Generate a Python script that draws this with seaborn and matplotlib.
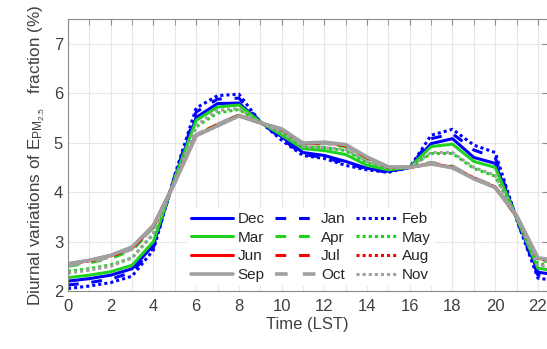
import matplotlib
matplotlib.use("Agg")
import matplotlib.pyplot as plt
from matplotlib.ticker import MultipleLocator
import seaborn as sns
import pandas as pd

hours = list(range(24))
months = ["Dec", "Jan", "Feb", "Mar", "Apr", "May", "Jun", "Jul", "Aug", "Sep", "Oct", "Nov"]

dec = [2.20, 2.25, 2.32, 2.45, 2.93, 4.30, 5.51, 5.79, 5.80, 5.42, 5.12, 4.80, 4.74, 4.62, 4.48, 4.42, 4.50, 4.98, 5.08, 4.70, 4.58, 3.48, 2.38, 2.32]
jan = [2.12, 2.17, 2.24, 2.38, 2.88, 4.32, 5.62, 5.88, 5.90, 5.42, 5.08, 4.76, 4.70, 4.58, 4.47, 4.40, 4.50, 5.08, 5.18, 4.85, 4.70, 3.45, 2.32, 2.27]
feb = [2.05, 2.10, 2.17, 2.30, 2.83, 4.35, 5.70, 5.95, 5.98, 5.42, 5.05, 4.74, 4.68, 4.54, 4.45, 4.40, 4.50, 5.15, 5.27, 4.95, 4.80, 3.45, 2.26, 2.20]
mar = [2.27, 2.32, 2.39, 2.52, 3.00, 4.28, 5.45, 5.72, 5.76, 5.42, 5.15, 4.88, 4.84, 4.76, 4.54, 4.45, 4.50, 4.92, 4.97, 4.62, 4.50, 3.48, 2.46, 2.40]
apr = [2.50, 2.57, 2.66, 2.82, 3.28, 4.22, 5.17, 5.37, 5.56, 5.40, 5.25, 4.96, 4.98, 4.92, 4.68, 4.50, 4.50, 4.60, 4.52, 4.28, 4.10, 3.50, 2.62, 2.57]
may = [2.40, 2.45, 2.53, 2.67, 3.15, 4.24, 5.32, 5.60, 5.67, 5.40, 5.20, 4.92, 4.90, 4.84, 4.60, 4.47, 4.50, 4.78, 4.78, 4.48, 4.32, 3.50, 2.55, 2.50]
jun = [2.55, 2.62, 2.72, 2.88, 3.32, 4.20, 5.15, 5.35, 5.55, 5.40, 5.27, 4.98, 5.00, 4.95, 4.70, 4.50, 4.50, 4.58, 4.50, 4.28, 4.10, 3.52, 2.66, 2.60]
jul = [2.53, 2.60, 2.70, 2.86, 3.30, 4.20, 5.16, 5.36, 5.55, 5.40, 5.26, 4.97, 4.99, 4.94, 4.69, 4.50, 4.50, 4.59, 4.51, 4.27, 4.09, 3.51, 2.65, 2.59]
aug = [2.54, 2.61, 2.71, 2.87, 3.31, 4.21, 5.14, 5.34, 5.54, 5.40, 5.27, 4.98, 5.00, 4.95, 4.70, 4.50, 4.50, 4.57, 4.50, 4.29, 4.10, 3.52, 2.66, 2.60]
sep = [2.55, 2.62, 2.72, 2.89, 3.33, 4.19, 5.14, 5.34, 5.54, 5.40, 5.28, 4.99, 5.01, 4.96, 4.71, 4.51, 4.50, 4.57, 4.49, 4.27, 4.09, 3.53, 2.67, 2.61]
oct_ = [2.52, 2.59, 2.69, 2.85, 3.29, 4.20, 5.16, 5.37, 5.56, 5.40, 5.26, 4.97, 4.99, 4.93, 4.69, 4.50, 4.50, 4.59, 4.52, 4.29, 4.11, 3.51, 2.64, 2.58]
nov = [2.36, 2.42, 2.50, 2.67, 3.17, 4.22, 5.35, 5.65, 5.69, 5.40, 5.20, 4.92, 4.90, 4.86, 4.62, 4.48, 4.50, 4.80, 4.80, 4.50, 4.34, 3.50, 2.52, 2.47]

series = [dec, jan, feb, mar, apr, may, jun, jul, aug, sep, oct_, nov]
xticks = list(range(0, 23, 2))
yticks = [2, 3, 4, 5, 6, 7]

df = pd.DataFrame({
    "hour": hours * len(months),
    "value": [v for s in series for v in s],
    "month": [m for m in months for _ in hours],
})

colors = {"Dec": "#0000ff", "Jan": "#0000ff", "Feb": "#0000ff",
          "Mar": "#1fd21f", "Apr": "#1fd21f", "May": "#1fd21f",
          "Jun": "#ff0000", "Jul": "#ff0000", "Aug": "#ff0000",
          "Sep": "#a0a0a0", "Oct": "#a0a0a0", "Nov": "#a0a0a0"}
styles = ["-", (0, (3.5, 4.2)), (0, (1.0, 1.0))]

sns.set_style("white")
plt.rcParams["font.family"] = ["Liberation Sans", "DejaVu Sans"]
plt.rcParams["mathtext.fontset"] = "custom"
plt.rcParams["mathtext.rm"] = "Liberation Sans"
plt.rcParams["mathtext.it"] = "Liberation Sans"
plt.rcParams["mathtext.default"] = "regular"

fig = plt.figure(figsize=(5.47, 3.49), dpi=100)
ax = fig.add_axes([68 / 547, 58 / 349, 1 - 68 / 547 + 0.001, (291 - 19) / 349])

handles = {}
for i, m in enumerate(months):
    sub = df[df["month"] == m]
    lw = 2.6 if m in ("Sep", "Oct") else 2.2
    sns.lineplot(data=sub, x="hour", y="value", ax=ax, color=colors[m],
                 linestyle=styles[i % 3], linewidth=lw, label=m, legend=False)
    handles[m] = ax.get_lines()[-1]

ax.set_xlim(0, 22.45)
ax.set_ylim(2, 7.5)
ax.set_xticks(xticks)
ax.xaxis.set_minor_locator(MultipleLocator(1))
ax.set_yticks(yticks)
ax.grid(True, which="both", color="#e6e6e6", linewidth=0.8)
ax.set_axisbelow(True)
for s in ax.spines.values():
    s.set_color("#8c8c8c")
    s.set_linewidth(0.8)
ax.tick_params(which="both", direction="in", top=True, right=True, color="#8c8c8c",
               labelsize=12, labelcolor="#404040")
ax.tick_params(which="major", length=4)
ax.tick_params(which="minor", length=4)
ax.tick_params(axis="x", pad=6)

ax.set_xlabel("Time (LST)", fontsize=12, color="#404040", labelpad=2)
ax.set_ylabel(r"Diurnal variations of E$_{PM_{2.5}}$   fraction (%)", fontsize=12.3, color="#404040", labelpad=5)

order = ["Dec", "Mar", "Jun", "Sep", "Jan", "Apr", "Jul", "Oct", "Feb", "May", "Aug", "Nov"]
leg = ax.legend([handles[m] for m in order], order, ncol=3, loc="center",
                bbox_to_anchor=(311 / 547, 1 - 247 / 349), bbox_transform=fig.transFigure,
                frameon=True, fancybox=False, framealpha=1, facecolor="white", edgecolor="none",
                fontsize=11, handlelength=2.7, handletextpad=0.33, columnspacing=0.65,
                labelspacing=0.3, borderpad=0.3)
for t in leg.get_texts():
    t.set_color("#262626")

fig.savefig("out.png", dpi=100)
